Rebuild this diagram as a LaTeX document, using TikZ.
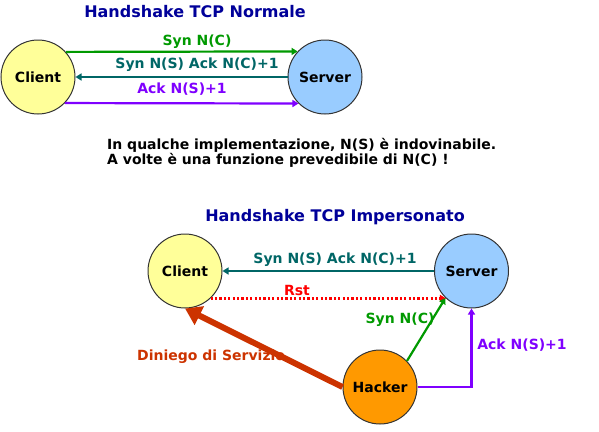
\documentclass[tikz,border=0pt]{standalone}
\usepackage{fontspec}
\setmainfont{DejaVu Sans}
\usetikzlibrary{arrows.meta}
\definecolor{navyt}{RGB}{0,0,153}
\definecolor{syng}{RGB}{0,153,0}
\definecolor{tealc}{RGB}{0,102,102}
\definecolor{purp}{RGB}{127,0,255}
\definecolor{dos}{RGB}{204,51,0}
\definecolor{cfill}{RGB}{255,255,153}
\definecolor{sfill}{RGB}{153,204,255}
\definecolor{hfill}{RGB}{255,153,0}
\definecolor{rstc}{RGB}{255,0,0}
\tikzset{
  host/.style={circle,draw=black!80,line width=1pt,minimum size=74pt,inner sep=0pt,
    font=\fontsize{14}{16}\selectfont\bfseries},
  lbl/.style={font=\fontsize{14}{16}\selectfont\bfseries,inner sep=0pt},
  ttl/.style={font=\fontsize{16}{18}\selectfont\bfseries,text=navyt,inner sep=0pt},
  msg/.style={line width=2.2pt,-{Triangle[length=6pt,width=7pt]}},
}
\begin{document}
\begin{tikzpicture}[x=1pt,y=-1pt]
\useasboundingbox (0,0) rectangle (599,431);
% top
\node[ttl] (t1) at (195,12) {Handshake TCP Normale};
\node[host,fill=cfill] (c1) at (38,77) {Client};
\node[host,fill=sfill] (s1) at (325,77) {Server};
\draw[msg,syng] (c1.42.5) -- (s1.137.5);
\draw[msg,tealc] (s1.west) -- (c1.east);
\draw[msg,purp] (c1.-44.6) -- (s1.-135.4);
\node[lbl,text=syng] (l1) at (197,42) {Syn N(C)};
\node[lbl,text=tealc] (l2) at (197,65) {Syn N(S) Ack N(C)+1};
\node[lbl,text=purp] (l3) at (182,89) {Ack N(S)+1};
% text
\node[lbl,anchor=west] (p1) at (107,145) {In qualche implementazione, N(S) è indovinabile.};
\node[lbl,anchor=west] (p2) at (107,160) {A volte è una funzione prevedibile di N(C) !};
% bottom
\node[ttl] (t2) at (335,217) {Handshake TCP Impersonato};
\node[host,fill=cfill] (c2) at (185,271) {Client};
\node[host,fill=sfill] (s2) at (471.5,271) {Server};
\node[host,fill=hfill] (h) at (380,387) {Hacker};
\draw[msg,tealc] (s2.west) -- (c2.east);
\draw[line width=2.2pt,rstc,dash pattern=on 2.2pt off 2.2pt,-{Triangle[length=6pt,width=7pt]}] (c2.-47) -- (s2.-133);
\node[lbl,text=rstc] (l4) at (297,290) {Rst};
\node[lbl,text=tealc] (l5) at (335,260) {Syn N(S) Ack N(C)+1};
\node[lbl,text=dos,anchor=west] (l6) at (137,357) {Diniego di Servizio};
\draw[dos,line width=6pt,-{Triangle[length=16pt,width=20pt]}] (h.west) -- (c2.south);
\draw[msg,syng] (h.44) -- (s2.-134);
\draw[msg,purp] (h.east) -| (s2.south);
\node[lbl,text=syng] (l7) at (400,320) {Syn N(C)};
\node[lbl,text=purp] (l8) at (522,345) {Ack N(S)+1};
\end{tikzpicture}
\end{document}
